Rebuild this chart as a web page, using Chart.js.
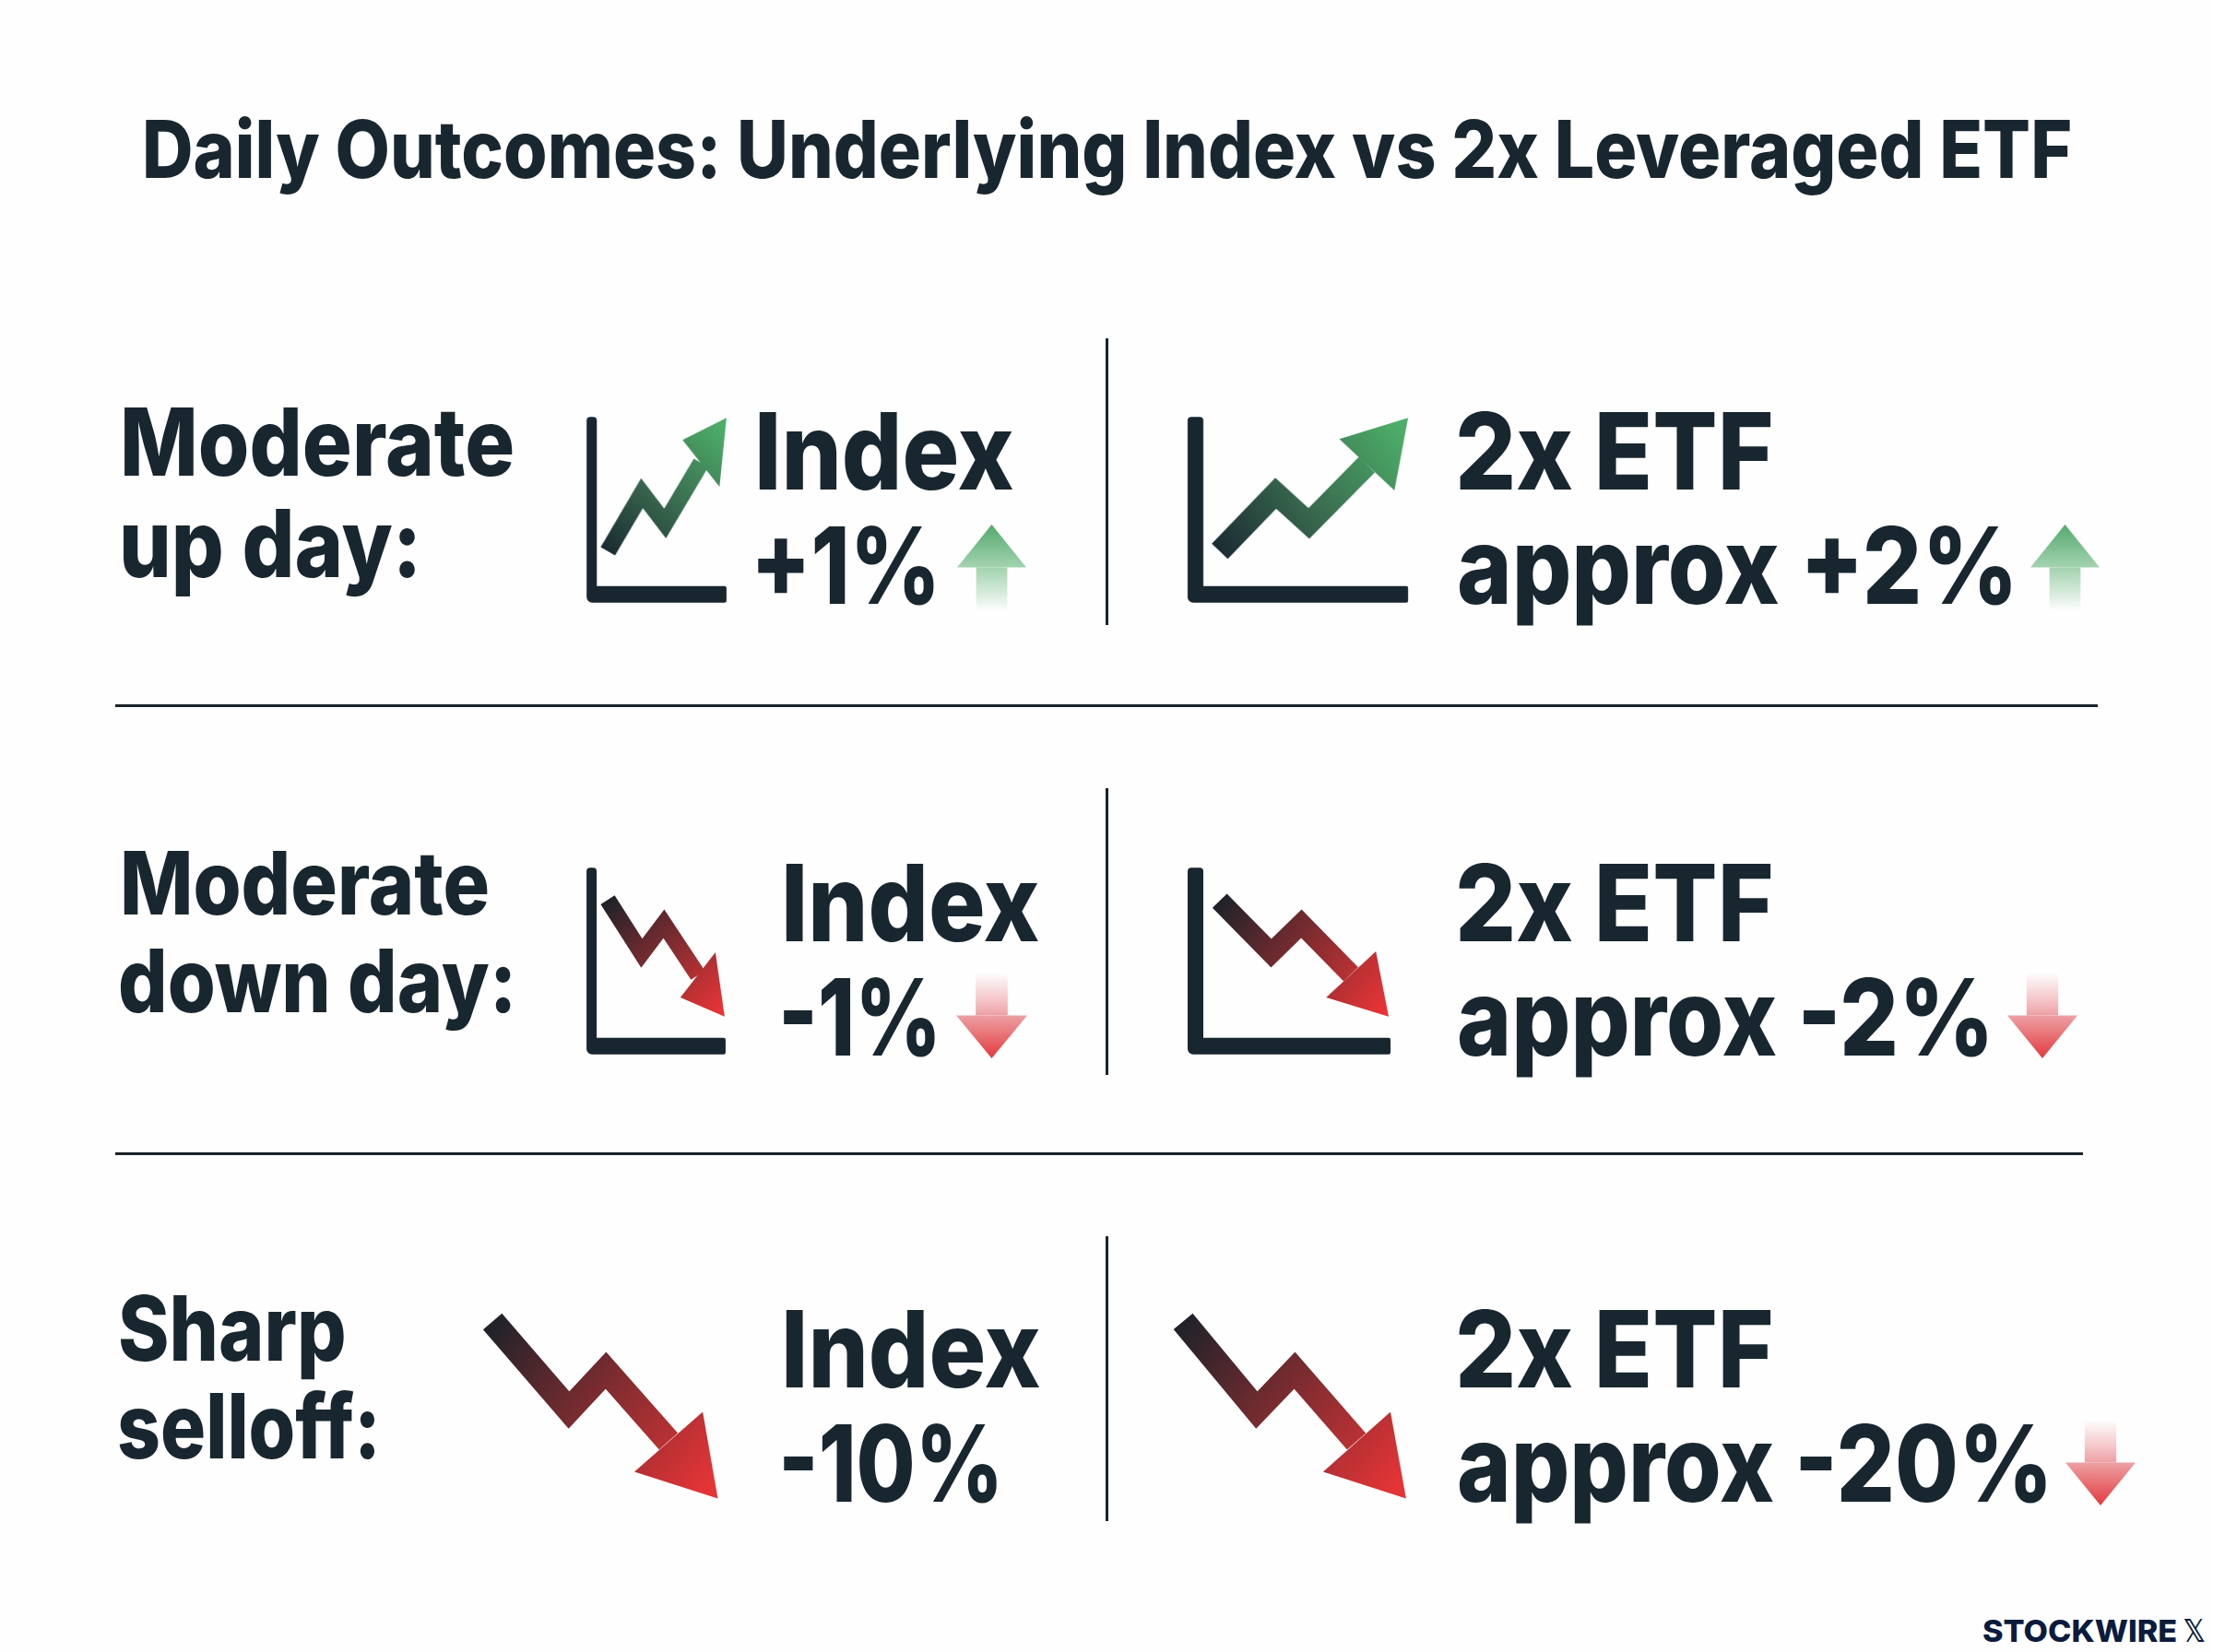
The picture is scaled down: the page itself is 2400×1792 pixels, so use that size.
<!DOCTYPE html>
<html>
<head>
<meta charset="utf-8">
<title>Daily Outcomes</title>
<script src="https://cdn.jsdelivr.net/npm/chart.js@4"></script>
<style>
  html, body { margin: 0; padding: 0; background: #fefefe; }
  #page { position: relative; width: 2400px; height: 1792px; overflow: hidden; background: #fefefe; }
  #page canvas { position: absolute; }
  .txt { position: absolute; white-space: pre; transform-origin: 0 0; color: #18262f; line-height: 1; }
  .rule { position: absolute; background: #18232b; }
</style>
</head>
<body>
<div id="page"></div>
<script>
// texts
const chartTitle = 'Daily Outcomes: Underlying Index vs 2x Leveraged ETF';
const rowLabels = [['Moderate', 'up day:'], ['Moderate', 'down day:'], ['Sharp', 'selloff:']];
const indexMoves = ['+1%', '-1%', '-10%'];
const etfMoves = ['approx +2%', 'approx -2%', 'approx -20%'];
const brand = 'STOCKWIRE';

// direction of the small arrows beside the figures
const smallArrowDirs = [1, 1, -1, -1, -1];

// zig-zag lines (icon units, 0-100 on each axis)
const indexUpX = [15.2, 39.6, 56.1, 81.8];
const indexUpY = [27.7, 58.9, 42.6, 75.2];
const indexUpHeadX = [68.6, 100, 95];
const indexUpHeadY = [87.6, 99.5, 62.4];

const etfUpX = [14.6, 40, 55, 81.3];
const etfUpY = [27.7, 58.9, 42.6, 74.3];
const etfUpHeadX = [68.8, 100, 93.8];
const etfUpHeadY = [88.1, 99.5, 60.4];

const indexDownX = [15.2, 39.7, 55.6, 80.1];
const indexDownY = [82.8, 54.2, 70, 42.4];
const indexDownHeadX = [92.7, 99.3, 67.5];
const indexDownHeadY = [54.7, 20.2, 30.5];

const etfDownX = [15.8, 41.2, 56.1, 80.5];
const etfDownY = [82.3, 54.2, 70, 42.9];
const etfDownHeadX = [92.8, 99.1, 68.3];
const etfDownHeadY = [55.2, 20.2, 30.5];

const indexSellX = [3.5, 35.4, 50.8, 76.9];
const indexSellY = [96.3, 51.6, 71.6, 35.8];
const indexSellHeadX = [91.2, 97.5, 62.7];
const indexSellHeadY = [50.7, 7, 20.5];

const etfSellX = [3.5, 34.2, 50, 75.8];
const etfSellY = [96.3, 51.6, 71.6, 35.8];
const etfSellHeadX = [90, 96.5, 61.9];
const etfSellHeadY = [50.7, 7, 20.5];

const page = document.getElementById('page');
const INK = '#18262f';
const UP_STOPS = ['#1b2c33', '#3a6b4f', '#4dae69'];
const DOWN_STOPS = ['#1f2229', '#7c2c30', '#e53436'];

// ---- text, stretched so the ink lands on the measured left and right edges
const meter = document.createElement('canvas').getContext('2d');
function addText(text, left, right, baseline, size, family, weight, color) {
    const font = (weight || 800) + ' ' + size + 'px ' + (family || 'Inter');
    meter.font = font;
    const m = meter.measureText(text);
    const ink = m.actualBoundingBoxRight + m.actualBoundingBoxLeft;
    const sx = (right - left) / ink;
    const el = document.createElement('div');
    el.className = 'txt';
    el.textContent = text;
    el.style.font = font;
    el.style.lineHeight = '1';
    if (color) el.style.color = color;
    page.appendChild(el);
    // baseline offset from the box top for line-height 1
    const asc = m.fontBoundingBoxAscent, desc = m.fontBoundingBoxDescent;
    const top = baseline - (size - (asc + desc)) / 2 - asc;
    el.style.left = (left + m.actualBoundingBoxLeft * sx) + 'px';
    el.style.top = top + 'px';
    el.style.transform = 'scaleX(' + sx + ')';
}

addText(chartTitle, 158, 2245, 193, 87);

addText(rowLabels[0][0], 134, 555, 516, 102);
addText(rowLabels[0][1], 133, 450, 626, 102);
addText(rowLabels[1][0], 134, 528, 992, 95);
addText(rowLabels[1][1], 131, 554, 1098, 95);
addText(rowLabels[2][0], 131, 374, 1476, 98);
addText(rowLabels[2][1], 130, 407, 1582, 98);

addText('Index', 823, 1098, 531, 115);
addText(indexMoves[0], 821, 1012, 655, 115);
addText('2x ETF', 1583, 1921, 531, 115);
addText(etfMoves[0], 1583, 2181, 655, 115);

addText('Index', 852, 1126, 1021, 115);
addText(indexMoves[1], 850, 1014, 1145, 115);
addText('2x ETF', 1583, 1921, 1021, 115);
addText(etfMoves[1], 1583, 2155, 1145, 115);

addText('Index', 852, 1127, 1505, 115);
addText(indexMoves[2], 850, 1081, 1629, 115);
addText('2x ETF', 1583, 1921, 1505, 115);
addText(etfMoves[2], 1583, 2219, 1629, 115);

addText(brand, 2151, 2360, 1781, 33, 'Inter', 800, '#0b1b3d');
addText('\u{1D54F}', 2368, 2391, 1781, 34, '"DejaVu Sans"', 700, '#0b1b3d');

// ---- divider rules
function addRule(x, y, w, h) {
    const el = document.createElement('div');
    el.className = 'rule';
    el.style.cssText = 'left:' + x + 'px;top:' + y + 'px;width:' + w + 'px;height:' + h + 'px';
    page.appendChild(el);
}
addRule(1199, 367, 3, 311);
addRule(1199, 855, 3, 311);
addRule(1199, 1341, 3, 309);
addRule(125, 764, 2150, 3);
addRule(125, 1250, 2134, 3);

// ---- plugin: L shaped axis with rounded outer corner, built on the scales
const lAxes = {
    id: 'lAxes',
    beforeDatasetsDraw(chart, args, opts) {
        if (!opts.vw) return;
        const { x, y } = chart.scales;
        const l = x.getPixelForValue(0), r = x.getPixelForValue(100);
        const b = y.getPixelForValue(0), t = y.getPixelForValue(100);
        const c = chart.ctx;
        c.save();
        c.fillStyle = INK;
        c.beginPath();
        c.roundRect(l, t, opts.vw, b - t, [4, 4, 0, 6]);
        c.roundRect(l, b - opts.hw, r - l, opts.hw, [0, 2, 2, 6]);
        c.fill();
        c.restore();
    }
};

function pathGradient(lineX, lineY, headX, headY, stops) {
    return (context) => {
        const chart = context.chart;
        if (!chart.chartArea) return stops[0];
        const { x, y } = chart.scales;
        const g = chart.ctx.createLinearGradient(
            x.getPixelForValue(lineX[0]), y.getPixelForValue(lineY[0]),
            x.getPixelForValue(headX[1]), y.getPixelForValue(headY[1]));
        g.addColorStop(0, stops[0]);
        g.addColorStop(0.45, stops[1]);
        g.addColorStop(0.95, stops[2]);
        g.addColorStop(1, stops[2]);
        return g;
    };
}

function toPoints(xs, ys) {
    return xs.map((v, i) => ({ x: v, y: ys[i] }));
}

// frame = pixel box of the 0-100 icon units; the scales run 10 units past it on each side
function addIcon(frame, lineX, lineY, headX, headY, stops, lineWidth, axis) {
    const cv = document.createElement('canvas');
    const w = frame.w * 1.2, h = frame.h * 1.2;
    cv.style.left = (frame.x - frame.w * 0.1) + 'px';
    cv.style.top = (frame.y - frame.h * 0.1) + 'px';
    cv.style.width = w + 'px';
    cv.style.height = h + 'px';
    page.appendChild(cv);
    const paint = pathGradient(lineX, lineY, headX, headY, stops);
    new Chart(cv, {
        type: 'scatter',
        data: {
            datasets: [
                {
                    data: toPoints(headX, headY),
                    showLine: true, fill: 'shape', borderWidth: 0,
                    backgroundColor: paint, pointRadius: 0
                },
                {
                    data: toPoints(lineX, lineY),
                    showLine: true, fill: false, borderWidth: lineWidth,
                    borderColor: paint, pointRadius: 0,
                    borderJoinStyle: 'miter', borderCapStyle: 'butt', tension: 0
                }
            ]
        },
        options: {
            responsive: false,
            animation: false,
            events: [],
            layout: { padding: 0 },
            scales: {
                x: { type: 'linear', min: -10, max: 110, display: false },
                y: { type: 'linear', min: -10, max: 110, display: false }
            },
            plugins: {
                legend: { display: false },
                tooltip: { enabled: false },
                lAxes: axis || {}
            }
        },
        plugins: [lAxes]
    });
}

addIcon({ x: 636, y: 452, w: 151.5, h: 202 }, indexUpX, indexUpY, indexUpHeadX, indexUpHeadY, UP_STOPS, 18, { vw: 11, hw: 18 });
addIcon({ x: 1288, y: 452, w: 239, h: 202 }, etfUpX, etfUpY, etfUpHeadX, etfUpHeadY, UP_STOPS, 24, { vw: 17, hw: 18 });
addIcon({ x: 636, y: 941, w: 151, h: 203 }, indexDownX, indexDownY, indexDownHeadX, indexDownHeadY, DOWN_STOPS, 18, { vw: 11, hw: 18 });
addIcon({ x: 1288, y: 941, w: 220, h: 203 }, etfDownX, etfDownY, etfDownHeadX, etfDownHeadY, DOWN_STOPS, 22, { vw: 17, hw: 18 });
addIcon({ x: 525, y: 1425, w: 260, h: 215 }, indexSellX, indexSellY, indexSellHeadX, indexSellHeadY, DOWN_STOPS, 27);
addIcon({ x: 1274, y: 1425, w: 260, h: 215 }, etfSellX, etfSellY, etfSellHeadX, etfSellHeadY, DOWN_STOPS, 27);

// ---- small faded arrows: a bar for the shaft, the head on top of it
const SHAFT = 0.5;

function arrowGradient(chart, dir) {
    const y = chart.scales.y;
    const tail = y.getPixelForValue(0), tip = y.getPixelForValue(dir);
    const g = chart.ctx.createLinearGradient(0, tail, 0, tip);
    if (dir > 0) {
        g.addColorStop(0, 'rgba(150,205,165,0)');
        g.addColorStop(0.5, '#a3d3b0');
        g.addColorStop(1, '#55a96d');
    } else {
        g.addColorStop(0, 'rgba(240,170,175,0)');
        g.addColorStop(0.5, '#eda0a4');
        g.addColorStop(1, '#e23a3d');
    }
    return g;
}

const arrowHead = {
    id: 'arrowHead',
    afterDatasetsDraw(chart) {
        const bar = chart.getDatasetMeta(0).data[0];
        const dir = chart.data.datasets[0].data[0][1] > 0 ? 1 : -1;
        const y = chart.scales.y, c = chart.ctx;
        c.save();
        c.fillStyle = arrowGradient(chart, dir);
        c.beginPath();
        c.moveTo(chart.chartArea.left, y.getPixelForValue(dir * SHAFT));
        c.lineTo(chart.chartArea.right, y.getPixelForValue(dir * SHAFT));
        c.lineTo(bar.x, y.getPixelForValue(dir));
        c.closePath();
        c.fill();
        c.restore();
    }
};

function addSmallArrow(box, dir) {
    const cv = document.createElement('canvas');
    cv.style.left = box.x + 'px';
    cv.style.top = box.y + 'px';
    cv.style.width = box.w + 'px';
    cv.style.height = box.h + 'px';
    page.appendChild(cv);
    new Chart(cv, {
        type: 'bar',
        data: {
            labels: [''],
            datasets: [{
                data: [[0, dir * SHAFT]],
                backgroundColor: (context) => context.chart.chartArea ? arrowGradient(context.chart, dir) : '#ccc',
                borderWidth: 0,
                borderSkipped: false,
                barPercentage: 1,
                categoryPercentage: 0.45
            }]
        },
        options: {
            responsive: false,
            animation: false,
            events: [],
            layout: { padding: 0 },
            scales: {
                x: { display: false },
                y: { display: false, min: dir > 0 ? 0 : -1, max: dir > 0 ? 1 : 0 }
            },
            plugins: { legend: { display: false }, tooltip: { enabled: false } }
        },
        plugins: [arrowHead]
    });
}

addSmallArrow({ x: 1038, y: 569, w: 75, h: 93 }, smallArrowDirs[0]);
addSmallArrow({ x: 2202, y: 569, w: 75, h: 93 }, smallArrowDirs[1]);
addSmallArrow({ x: 1037, y: 1055, w: 77, h: 93 }, smallArrowDirs[2]);
addSmallArrow({ x: 2177, y: 1055, w: 76, h: 93 }, smallArrowDirs[3]);
addSmallArrow({ x: 2240, y: 1540, w: 76, h: 93 }, smallArrowDirs[4]);
</script>
</body>
</html>
